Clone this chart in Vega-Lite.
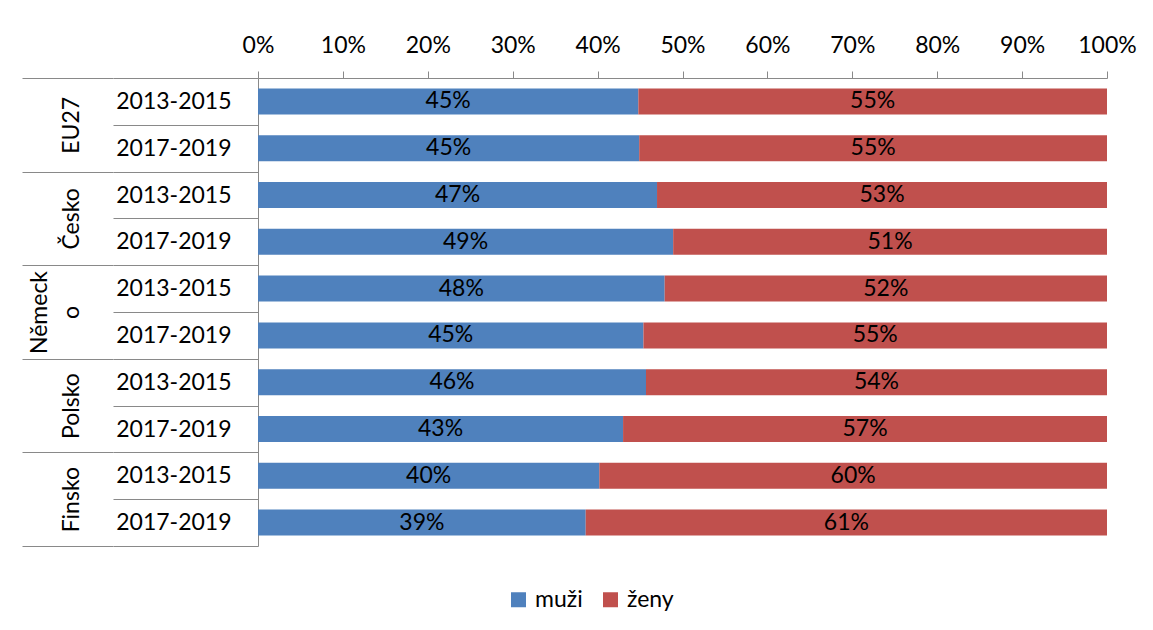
{
  "$schema": "https://vega.github.io/schema/vega-lite/v6.json",
  "width": 849,
  "height": 468,
  "autosize": {"type": "none"},
  "padding": {"left": 258, "top": 78, "right": 46, "bottom": 84},
  "background": "white",
  "config": {
    "font": "Lato",
    "view": {"stroke": null},
    "axis": {"labelFont": "Lato", "labelFontSize": 23, "labelColor": "black", "domainColor": "#898989", "tickColor": "#898989", "grid": false}
  },
  "data": {
    "values": [
      {"country": "EU27", "period": "2013-2015", "key": "EU27|2013-2015", "sex": "muži", "share": 0.448},
      {"country": "EU27", "period": "2013-2015", "key": "EU27|2013-2015", "sex": "ženy", "share": 0.552},
      {"country": "EU27", "period": "2017-2019", "key": "EU27|2017-2019", "sex": "muži", "share": 0.449},
      {"country": "EU27", "period": "2017-2019", "key": "EU27|2017-2019", "sex": "ženy", "share": 0.551},
      {"country": "Česko", "period": "2013-2015", "key": "Česko|2013-2015", "sex": "muži", "share": 0.470},
      {"country": "Česko", "period": "2013-2015", "key": "Česko|2013-2015", "sex": "ženy", "share": 0.530},
      {"country": "Česko", "period": "2017-2019", "key": "Česko|2017-2019", "sex": "muži", "share": 0.489},
      {"country": "Česko", "period": "2017-2019", "key": "Česko|2017-2019", "sex": "ženy", "share": 0.511},
      {"country": "Německo", "period": "2013-2015", "key": "Německo|2013-2015", "sex": "muži", "share": 0.479},
      {"country": "Německo", "period": "2013-2015", "key": "Německo|2013-2015", "sex": "ženy", "share": 0.521},
      {"country": "Německo", "period": "2017-2019", "key": "Německo|2017-2019", "sex": "muži", "share": 0.454},
      {"country": "Německo", "period": "2017-2019", "key": "Německo|2017-2019", "sex": "ženy", "share": 0.546},
      {"country": "Polsko", "period": "2013-2015", "key": "Polsko|2013-2015", "sex": "muži", "share": 0.457},
      {"country": "Polsko", "period": "2013-2015", "key": "Polsko|2013-2015", "sex": "ženy", "share": 0.543},
      {"country": "Polsko", "period": "2017-2019", "key": "Polsko|2017-2019", "sex": "muži", "share": 0.430},
      {"country": "Polsko", "period": "2017-2019", "key": "Polsko|2017-2019", "sex": "ženy", "share": 0.570},
      {"country": "Finsko", "period": "2013-2015", "key": "Finsko|2013-2015", "sex": "muži", "share": 0.402},
      {"country": "Finsko", "period": "2013-2015", "key": "Finsko|2013-2015", "sex": "ženy", "share": 0.598},
      {"country": "Finsko", "period": "2017-2019", "key": "Finsko|2017-2019", "sex": "muži", "share": 0.386},
      {"country": "Finsko", "period": "2017-2019", "key": "Finsko|2017-2019", "sex": "ženy", "share": 0.614}
    ]
  },
  "layer": [
    {
      "encoding": {
        "y": {
          "field": "key",
          "type": "nominal",
          "sort": ["EU27|2013-2015", "EU27|2017-2019", "Česko|2013-2015", "Česko|2017-2019", "Německo|2013-2015", "Německo|2017-2019", "Polsko|2013-2015", "Polsko|2017-2019", "Finsko|2013-2015", "Finsko|2017-2019"],
          "scale": {"paddingInner": 0, "paddingOuter": 0},
          "axis": {
            "orient": "left",
            "title": null,
            "tickBand": "extent",
            "tickSize": 145,
            "labelPadding": -118,
            "labelAlign": "right",
            "labelBaseline": "middle",
            "labelExpr": "datum.label ? slice(datum.label, indexof(datum.label, '|') + 1) : ''",
            "labelOverlap": false
          }
        }
      },
      "layer": [
        {
          "mark": {"type": "bar", "height": 26},
          "encoding": {
            "x": {
              "field": "share",
              "type": "quantitative",
              "stack": "zero",
              "title": null,
              "scale": {"domain": [0, 1]},
              "axis": {"orient": "top", "format": "%", "values": [0, 0.1, 0.2, 0.3, 0.4, 0.5, 0.6, 0.7, 0.8, 0.9, 1], "tickSize": 7, "labelPadding": 14, "labelFlush": false, "title": null}
            },
            "order": {"field": "sex", "type": "nominal"},
            "color": {
              "field": "sex",
              "type": "nominal",
              "scale": {"domain": ["muži", "ženy"], "range": ["#4F81BD", "#C0504D"]},
              "legend": {
                "orient": "none",
                "legendX": 249,
                "legendY": 510,
                "direction": "horizontal",
                "title": null,
                "symbolType": "square",
                "symbolSize": 225,
                "labelFont": "Lato",
                "labelFontSize": 23,
                "labelColor": "black",
                "labelOffset": 5,
                "columnPadding": 16
              }
            }
          }
        },
        {
          "transform": [{"filter": "datum.sex === 'muži'"}],
          "mark": {"type": "text", "font": "Lato", "fontSize": 23, "color": "black", "align": "center", "baseline": "middle"},
          "encoding": {
            "x": {"field": "share", "type": "quantitative", "title": null, "scale": {"domain": [0, 2]}, "axis": null},
            "text": {"field": "share", "type": "quantitative", "format": ".0%"}
          }
        },
        {
          "transform": [{"filter": "datum.sex === 'ženy'"}],
          "mark": {"type": "text", "font": "Lato", "fontSize": 23, "color": "black", "align": "center", "baseline": "middle"},
          "encoding": {
            "x": {"field": "share", "type": "quantitative", "title": null, "scale": {"domain": [0, 2], "reverse": true}, "axis": null},
            "text": {"field": "share", "type": "quantitative", "format": ".0%"}
          }
        }
      ],
      "resolve": {"scale": {"x": "independent"}, "axis": {"x": "independent"}}
    },
    {
      "mark": {"type": "text", "text": " "},
      "encoding": {
        "y": {
          "field": "country",
          "type": "nominal",
          "sort": ["EU27", "Česko", "Německo", "Polsko", "Finsko"],
          "scale": {"paddingInner": 0, "paddingOuter": 0},
          "axis": {
            "orient": "left",
            "title": null,
            "offset": 145,
            "domain": false,
            "tickBand": "extent",
            "tickSize": 91,
            "labelAngle": 270,
            "labelAlign": "center",
            "labelBaseline": "bottom",
            "labelPadding": -29,
            "labelLineHeight": 32,
            "labelExpr": "datum.label === 'Německo' ? ['Německ', 'o'] : ['', datum.label]",
            "labelOverlap": false
          }
        }
      }
    }
  ],
  "resolve": {"scale": {"y": "independent"}, "axis": {"y": "independent"}}
}
